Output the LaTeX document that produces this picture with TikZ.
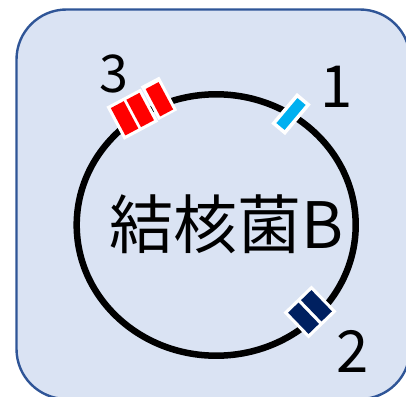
\documentclass[tikz,border=0pt]{standalone}
\usepackage{fontspec}
\usetikzlibrary{shapes.geometric}
\newfontfamily\jp{Noto Sans CJK JP}
\definecolor{boxfill}{HTML}{DAE3F3}
\definecolor{boxline}{HTML}{2F5597}
\definecolor{mcyan}{HTML}{00B0F0}
\definecolor{mnavy}{HTML}{002060}
\definecolor{mred}{HTML}{FF0000}
\begin{document}
\begin{tikzpicture}[x=1pt,y=-1pt,
  bar/.style={fill=#1, inner sep=0pt, outer sep=0pt},
  backing/.style={fill=white, inner sep=0pt, outer sep=0pt},
  lbl/.style={font=\jp\fontsize{58}{58}\selectfont, inner sep=0pt},
  ringstyle/.style={ellipse, draw=black, line width=6.5pt, inner sep=0pt}]
\useasboundingbox (0,0) rectangle (406,396);
\clip (0,0) rectangle (406,396);
\fill[white] (0,0) rectangle (406,396);
\draw[boxline, fill=boxfill, line width=2.4pt, rounded corners=50pt] (16.5,9.5) rectangle (410,399);
% ring
\node[ringstyle, minimum width=279pt, minimum height=261.4pt] (ring) at (216.2,225) {};
% title
\node[font=\jp\fontsize{64}{64}\selectfont, inner sep=0pt] (title) at (227,224) {結核菌B};
% marker 1 (cyan)
\node[bar=mcyan, draw=white, line width=3.5pt, rotate=50, minimum width=36.5pt, minimum height=14.5pt] (m1) at (291,114) {};
% marker 2 (navy)
\begin{scope}[shift={(310,312)}, rotate=-46, transform shape]
  \node[backing, minimum width=36pt, minimum height=39pt] (m2) at (0,0) {};
  \node[bar=mnavy, minimum width=29.5pt, minimum height=14.5pt] (m2a) at (0,-9) {};
  \node[bar=mnavy, minimum width=29.5pt, minimum height=14.5pt] (m2b) at (0,9) {};
\end{scope}
% marker 3 (red)
\begin{scope}[shift={(140.2,110)}, rotate=118, transform shape]
  \node[backing, minimum width=37.4pt, minimum height=38.8pt] (m3) at (0,-8.85) {};
  \node[backing, minimum width=38pt, minimum height=21pt] (m3c) at (1.5,22) {};
  \node[bar=mred, minimum width=31pt, minimum height=14.7pt] (m3a) at (0,-17.7) {};
  \node[bar=mred, minimum width=31pt, minimum height=14.7pt] (m3b) at (0,0) {};
  \node[bar=mred, minimum width=31pt, minimum height=14.7pt] (m3d) at (0.5,22) {};
\end{scope}
% labels
\node[lbl] (n1) at (337,87) {1};
\node[lbl] (n2) at (353,351) {2};
\node[lbl, font=\jp\fontsize{52}{52}\selectfont] (n3) at (114,74) {3};
\end{tikzpicture}
\end{document}
